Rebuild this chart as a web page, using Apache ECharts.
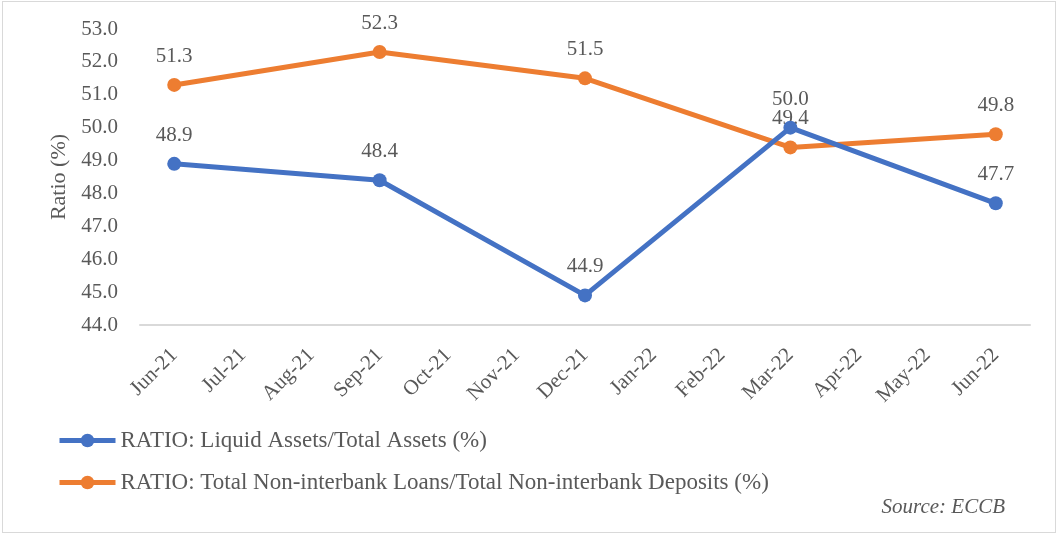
<!DOCTYPE html>
<html>
<head>
<meta charset="utf-8">
<script src="https://cdn.jsdelivr.net/npm/echarts@6/dist/echarts.min.js"></script>
<style>
  html, body { margin: 0; padding: 0; background: #fff; }
  #frame { position: absolute; left: 2px; top: 1px; width: 1052px; height: 530px; border: 1px solid #d9d9d9; }
  #chart { position: absolute; left: 0; top: 0; width: 1060px; height: 535px; }
</style>
</head>
<body>
<div id="frame"></div>
<div id="chart"></div>
<script>
const months = ['Jun-21', 'Jul-21', 'Aug-21', 'Sep-21', 'Oct-21', 'Nov-21', 'Dec-21', 'Jan-22', 'Feb-22', 'Mar-22', 'Apr-22', 'May-22', 'Jun-22'];
// only quarter-end months carry values
const liquidRatio = [48.9, null, null, 48.4, null, null, 44.9, null, null, 50.0, null, null, 47.7];
const loansDepositsRatio = [51.3, null, null, 52.3, null, null, 51.5, null, null, 49.4, null, null, 49.8];
const seriesNames = ['RATIO: Liquid Assets/Total Assets (%)', 'RATIO: Total Non-interbank Loans/Total Non-interbank Deposits (%)'];

const font = '"Liberation Serif", "DejaVu Serif", serif';
const textColor = '#595959';

const chart = echarts.init(document.getElementById('chart'), null, { renderer: 'canvas' });

const labelStyle = {
  show: true, position: 'top', distance: 11, color: textColor, fontFamily: font, fontSize: 21,
  formatter: p => p.value == null ? '' : p.value.toFixed(1)
};

chart.setOption({
  backgroundColor: 'transparent',
  animation: false,
  textStyle: { fontFamily: font, color: textColor },
  grid: { left: 140, right: 30, top: 29, bottom: 210 },
  legend: {
    orient: 'vertical', left: 52, top: 424, itemGap: 19, itemWidth: 56, itemHeight: 17,
    lineStyle: { width: 5 },
    textStyle: { fontFamily: font, fontSize: 23, color: textColor },
    data: seriesNames
  },
  xAxis: {
    type: 'category', data: months, boundaryGap: true,
    axisLine: { lineStyle: { color: '#d9d9d9', width: 2 } },
    axisTick: { show: false },
    axisLabel: { rotate: 45, margin: 27, color: textColor, fontFamily: font, fontSize: 21, interval: 0 }
  },
  yAxis: {
    type: 'value', min: 44, max: 53, interval: 1,
    name: 'Ratio (%)', nameLocation: 'middle', nameGap: 70,
    nameTextStyle: { fontFamily: font, fontSize: 22, color: textColor },
    splitLine: { show: false },
    axisLine: { show: false },
    axisTick: { show: false },
    axisLabel: { margin: 22, color: textColor, fontFamily: font, fontSize: 21, formatter: v => v.toFixed(1) }
  },
  series: [
    {
      name: seriesNames[0], type: 'line', data: liquidRatio, connectNulls: true, z: 3,
      symbol: 'circle', symbolSize: 14,
      lineStyle: { color: '#4472C4', width: 5 }, itemStyle: { color: '#4472C4' },
      label: labelStyle
    },
    {
      name: seriesNames[1], type: 'line', data: loansDepositsRatio, connectNulls: true, z: 2,
      symbol: 'circle', symbolSize: 14,
      lineStyle: { color: '#ED7D31', width: 5 }, itemStyle: { color: '#ED7D31' },
      label: labelStyle
    }
  ],
  graphic: [{
    type: 'text', right: 55, top: 497,
    style: { text: 'Source: ECCB', font: 'italic 21px ' + font, fill: textColor }
  }]
});
</script>
</body>
</html>
